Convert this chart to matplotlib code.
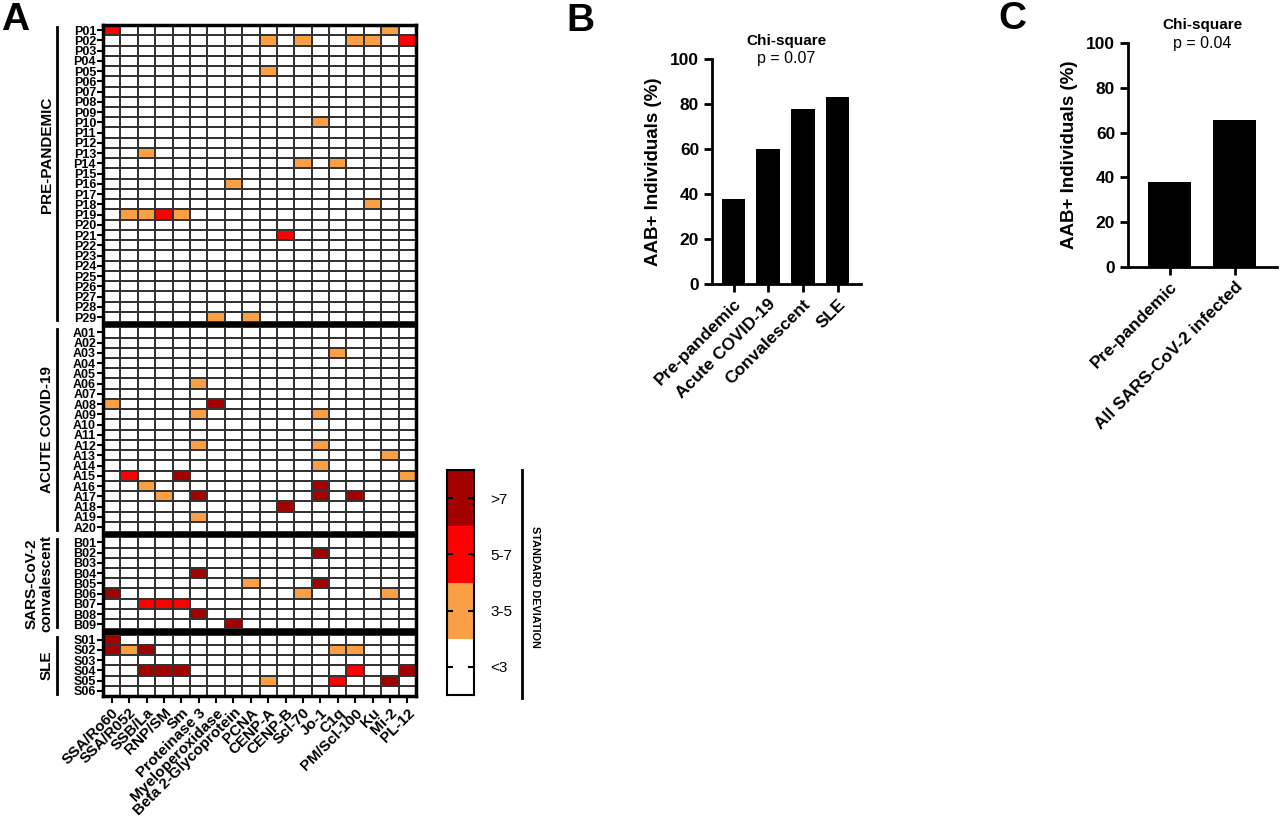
import numpy as np
import matplotlib.pyplot as plt
import matplotlib.colors as c
from matplotlib.lines import Line2D

plt.rcParams['font.family'] = ['Liberation Sans', 'DejaVu Sans']

antigens = ['SSA/Ro60', 'SSA/R052', 'SSB/La', 'RNP/SM', 'Sm', 'Proteinase 3',
            'Myeloperoxidase', 'Beta 2-Glycoprotein', 'PCNA', 'CENP-A', 'CENP-B',
            'Scl-70', 'Jo-1', 'C1q', 'PM/Scl-100', 'Ku', 'Mi-2', 'PL-12']

# 0: <3 SD, 1: 3-5 SD, 2: 5-7 SD, 3: >7 SD
pre_pandemic = [
    "200000000000000010", "000000000101001102", "000000000000000000",
    "000000000000000000", "000000000100000000", "000000000000000000",
    "000000000000000000", "000000000000000000", "000000000000000000",
    "000000000000100000", "000000000000000000", "000000000000000000",
    "001000000000000000", "000000000001010000", "000000000000000000",
    "000000010000000000", "000000000000000000", "000000000000000100",
    "011210000000000000", "000000000000000000", "000000000020000000",
    "000000000000000000", "000000000000000000", "000000000000000000",
    "000000000000000000", "000000000000000000", "000000000000000000",
    "000000000000000000", "000000101000000000"]
acute = [
    "000000000000000000", "000000000000000000", "000000000000010000",
    "000000000000000000", "000000000000000000", "000001000000000000",
    "000000000000000000", "100000300000000000", "000001000000100000",
    "000000000000000000", "000000000000000000", "000001000000100000",
    "000000000000000010", "000000000000100000", "020030000000000001",
    "001000000000300000", "000103000000303000", "000000000030000000",
    "000001000000000000", "000000000000000000"]
convalescent = [
    "000000000000000000", "000000000000300000", "000000000000000000",
    "000003000000000000", "000000001000300000", "300000000001000010",
    "002220000000000000", "000003000000000000", "000000030000000000"]
sle = [
    "300000000000000000", "313000000000011000", "000000000000000000",
    "003330000000002003", "000000000100020030", "000000000000000000"]

groups = [('P', pre_pandemic, 'PRE-PANDEMIC'),
          ('A', acute, 'ACUTE COVID-19'),
          ('B', convalescent, 'SARS-CoV-2\nconvalescent'),
          ('S', sle, 'SLE')]

sd_labels = ['<3', '3-5', '5-7', '>7']

groups_b = ['Pre-pandemic', 'Acute COVID-19', 'Convalescent', 'SLE']
pct_b = [37.9, 60.0, 77.8, 83.3]
groups_c = ['Pre-pandemic', 'All SARS-CoV-2 infected']
pct_c = [37.9, 65.5]

cmap = c.ListedColormap(['white', '#F9A045', '#FF0000', '#A30000'])
norm = c.BoundaryNorm([-0.5, 0.5, 1.5, 2.5, 3.5], 4)

fig = plt.figure(figsize=(12.8, 8.16), dpi=100)

# ---- panel A: heatmap
ax = fig.add_axes([0.0805, 0.147, 0.2445, 0.8223])
gap = 0.5
y0 = 0
yticks, ylabels, spans = [], [], []
for prefix, rows, name in groups:
    data = np.array([[int(ch) for ch in r] for r in rows])
    n = len(rows)
    ax.pcolormesh(np.arange(len(antigens) + 1), y0 + np.arange(n + 1), data,
                  cmap=cmap, norm=norm, edgecolors='#333333', linewidth=1.1)
    yticks += list(y0 + np.arange(n) + 0.5)
    ylabels += ['%s%02d' % (prefix, i + 1) for i in range(n)]
    spans.append((y0, y0 + n, name))
    y0 += n + gap
for (a0, a1, _), (b0, b1, _) in zip(spans[:-1], spans[1:]):
    ax.axhspan(a1, b0, color='black', lw=0)
ax.set_xlim(0, len(antigens))
ax.set_ylim(spans[-1][1], 0)
for s in ax.spines.values():
    s.set_linewidth(2.5)
ax.set_yticks(yticks)
ax.set_yticklabels(ylabels, fontsize=9, fontweight='bold')
ax.set_xticks(np.arange(len(antigens)) + 0.5)
ax.set_xticklabels(antigens, fontsize=11, fontweight='bold', rotation=45,
                   ha='right', rotation_mode='anchor')
ax.tick_params(axis='y', length=4, width=1.5, pad=1)
ax.tick_params(axis='x', length=5, width=1.5, pad=2)

tr = ax.get_yaxis_transform()
for i, (a0, a1, name) in enumerate(spans):
    ax.add_line(Line2D([-0.147, -0.147], [a0 + 0.2, a1 - 0.2], transform=tr,
                       color='black', lw=2, clip_on=False))
    xt = -0.205 if '\n' in name else -0.18
    yc = (a0 + a1) / 2 - (1.8 if i == 0 else 0)
    ax.text(xt, yc, name, transform=tr, rotation=90, ha='center',
            va='center', fontsize=11, fontweight='bold', linespacing=1.05)

# ---- colour key
cax = fig.add_axes([0.349, 0.1483, 0.0211, 0.2757])
cax.pcolormesh([0, 1], np.arange(5), np.arange(4).reshape(4, 1), cmap=cmap, norm=norm)
cax.set_xlim(0, 1)
cax.set_ylim(0, 4)
cax.set_xticks([])
cax.set_yticks(np.arange(4) + 0.5)
cax.set_yticklabels(sd_labels, fontsize=11)
cax.tick_params(axis='y', direction='in', length=4, width=1.5, left=True,
                right=True, labelleft=False, labelright=True, pad=12)
for s in cax.spines.values():
    s.set_linewidth(1.5)
fig.add_artist(Line2D([522 / 1280, 522 / 1280], [1 - 470 / 816, 1 - 698 / 816],
                      color='black', lw=2))
fig.text(535 / 1280, 1 - 587 / 816, 'STANDARD DEVIATION', rotation=-90,
         ha='center', va='center', fontsize=7.8, fontweight='bold')


def bar_panel(rect, cats, vals, xlim, width, pval):
    bx = fig.add_axes(rect)
    bx.bar(np.arange(len(cats)), vals, width=width, color='black')
    bx.set_xlim(*xlim)
    bx.set_ylim(0, 100)
    bx.set_yticks(range(0, 101, 20))
    bx.set_xticks(np.arange(len(cats)))
    bx.set_xticklabels(cats, rotation=45, ha='right', rotation_mode='anchor',
                       fontsize=12.5, fontweight='bold')
    for lab in bx.get_yticklabels():
        lab.set_fontsize(12.5)
        lab.set_fontweight('bold')
    bx.spines['top'].set_visible(False)
    bx.spines['right'].set_visible(False)
    bx.spines['left'].set_linewidth(2)
    bx.spines['bottom'].set_linewidth(2)
    bx.tick_params(length=6, width=2, pad=3)
    bx.set_ylabel('AAB+ Individuals (%)', fontsize=13.5, fontweight='bold', labelpad=6)
    bx.text(0.5, 1.082, 'Chi-square', transform=bx.transAxes, ha='center',
            va='center', fontsize=11, fontweight='bold')
    bx.text(0.5, 1.0, 'p = ' + pval, transform=bx.transAxes, ha='center',
            va='center', fontsize=11.5)
    return bx


bar_panel([0.556, 0.652, 0.117, 0.2757], groups_b, pct_b, (-0.63, 3.69), 0.69, '0.07')
bar_panel([0.881, 0.6728, 0.117, 0.2745], groups_c, pct_c, (-0.65, 1.66), 0.66, '0.04')

fig.text(15 / 1280, 1 - 20 / 816, 'A', fontsize=28, fontweight='bold', ha='center', va='center')
fig.text(580 / 1280, 1 - 21 / 816, 'B', fontsize=28, fontweight='bold', ha='center', va='center')
fig.text(1012 / 1280, 1 - 19 / 816, 'C', fontsize=28, fontweight='bold', ha='center', va='center')

fig.savefig('out.png', dpi=100)
